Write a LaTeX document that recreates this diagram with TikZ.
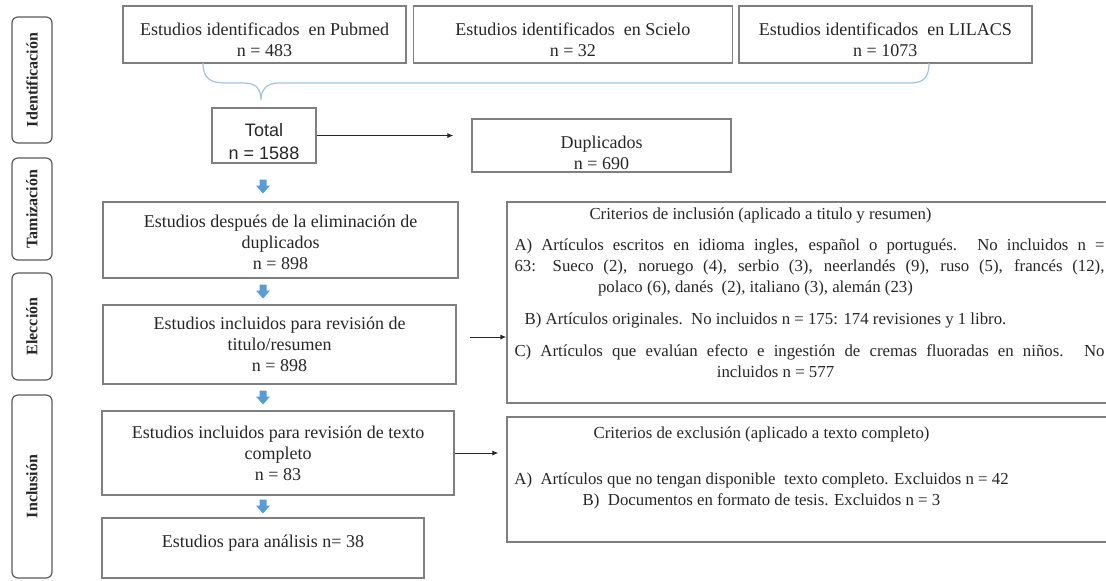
\documentclass[tikz,border=0pt]{standalone}
\usepackage{fontspec}
\setmainfont{Liberation Serif}
\setsansfont{Liberation Sans}
\usetikzlibrary{arrows.meta,positioning}
\definecolor{boxgray}{RGB}{127,127,127}
\definecolor{labelgray}{RGB}{89,89,89}
\definecolor{inkgray}{RGB}{38,38,38}
\definecolor{bracecolor}{RGB}{157,195,230}
\definecolor{arrowblue}{RGB}{91,155,213}
\newcommand{\fullline}[1]{\makebox[295pt][s]{#1}}
\newcommand{\critline}[2]{\makebox[295pt]{#2\hspace*{#1}}}
\tikzset{
  flowbox/.style={draw=boxgray,line width=0.7pt,align=center,inner sep=0pt,
    text=inkgray,font=\fontsize{9}{10.5}\selectfont},
  critbox/.style={flowbox,font=\fontsize{8.4}{10.5}\selectfont},
  phasebox/.style={draw=labelgray,rounded corners=3pt,rotate=90,line width=0.6pt,
    minimum height=20pt,inner sep=0pt,text=inkgray,font=\fontsize{8}{9}\selectfont\bfseries},
  flowarrow/.style={-{Latex[length=3pt,width=2.6pt]},line width=0.5pt,draw=inkgray},
  bluedown/.pic={\fill[arrowblue] (-3.5,0) -- (3.5,0) -- (3.5,6) -- (7,6) -- (0,14)
    -- (-7,6) -- (-3.5,6) -- cycle;},
  bracket/.style={draw=bracecolor,line width=0.6pt},
}
\begin{document}
\begin{tikzpicture}[x=0.5pt,y=-0.5pt]
\useasboundingbox (0,0) rectangle (1106,580);

% phases
\node[phasebox,minimum width=63pt] (ident) at (32,80) {Identificación};
\node[phasebox,minimum width=51pt] (tamiz) at (32,209) {Tamización};
\node[phasebox,minimum width=53.5pt] (elecc) at (32,326.5) {Elección};
\node[phasebox,minimum width=91.5pt] (inclu) at (32,486.5) {Inclusión};

% sources
\node[flowbox,minimum width=141.5pt,minimum height=28.5pt] (pubmed) at (264.5,34.5)
  {\rule{0pt}{12pt}Estudios identificados\ \ en Pubmed\\n = 483};
\node[flowbox,minimum width=159.5pt,minimum height=28.5pt,right=3pt of pubmed] (scielo)
  {\rule{0pt}{12pt}Estudios identificados\ \ en Scielo\\n = 32};
\node[flowbox,minimum width=146.5pt,minimum height=28.5pt,right=2.5pt of scielo] (lilacs)
  {\rule{0pt}{12pt}Estudios identificados\ \ en LILACS\\n = 1073};

\coordinate (bl) at (203,63);
\coordinate (br) at (929,63);
\coordinate (tip) at (261,100);
\draw[bracket] (bl) .. controls (203,79) and (211,83) .. (226,83) -- (244,83)
  .. controls (256,83) and (261,89) .. (tip)
  .. controls (261,89) and (267,83) .. (279,83) -- (910,83)
  .. controls (923,83) and (929,78) .. (br);

\node[flowbox,minimum width=52pt,minimum height=27.5pt,
  font=\sffamily\fontsize{9}{11.5}\selectfont] (total) at (264,135.5)
  {\rule{0pt}{13pt}Total\\n = 1588};
\node[flowbox,minimum width=129.5pt,minimum height=26.5pt] (dup) at (601.5,145.5)
  {\rule{0pt}{14pt}Duplicados\\n = 690};
\draw[flowarrow,shorten >=9pt] (total) -- (total -| dup.west);

% main column
\node[flowbox,minimum width=177.5pt,minimum height=38pt] (screen) at (280.5,240)
  {\rule{0pt}{9pt}Estudios después de la eliminación de\\duplicados\\n = 898};
\node[flowbox,minimum width=176.5pt,minimum height=39.5pt] (titleabs) at (279.5,344.5)
  {Estudios incluidos para revisión de\\titulo/resumen\\n = 898};
\node[flowbox,minimum width=176pt,minimum height=42pt] (fulltext) at (278,453)
  {Estudios incluidos para revisión de texto\\completo\\n = 83};
\node[flowbox,minimum width=161pt,minimum height=30pt] (final) at (263,548)
  {Estudios para análisis n= 38\\[-4pt]\mbox{}};

\pic (d1) at (263,179.5) {bluedown};
\pic (d2) at (263,284.5) {bluedown};
\pic (d3) at (263,390.5) {bluedown};
\pic (d4) at (263,499.5) {bluedown};

% criteria
\node[critbox,minimum width=302.5pt,minimum height=100.5pt] (incl) at (809.5,302.5)
  {\critline{49pt}{Criterios de inclusión (aplicado a titulo y resumen)}\\[5pt]
   \fullline{A) Artículos escritos en idioma ingles, español o portugués. No incluidos n =}\\
   \fullline{63: Sueco (2), noruego (4), serbio (3), neerlandés (9), ruso (5), francés (12),}\\
   \critline{54pt}{polaco (6), danés\ \ (2), italiano (3), alemán (23)}\\[5.5pt]
   \critline{44pt}{B) Artículos originales.\ \ No incluidos n = 175: 174 revisiones y 1 libro.}\\[5.5pt]
   \fullline{C) Artículos que evalúan efecto e ingestión de cremas fluoradas en niños. No}\\
   \critline{34pt}{incluidos n = 577}\\[-1pt]\mbox{}};
\node[critbox,minimum width=302.5pt,minimum height=62.5pt] (excl) at (809.5,479.5)
  {\critline{48pt}{Criterios de exclusión (aplicado a texto completo)}\\[12.5pt]
   \critline{48pt}{A)\enspace Artículos que no tengan disponible\ \ texto completo. Excluidos n = 42}\\
   \critline{48pt}{B)\enspace Documentos en formato de tesis. Excluidos n = 3}\\[2.5pt]\mbox{}};

\draw[flowarrow,shorten <=6.5pt] ([yshift=3.75pt]titleabs.east) -- ([yshift=3.75pt]titleabs.east -| incl.west);
\draw[flowarrow,shorten >=4pt] (fulltext) -- (fulltext -| excl.west);
\end{tikzpicture}
\end{document}
